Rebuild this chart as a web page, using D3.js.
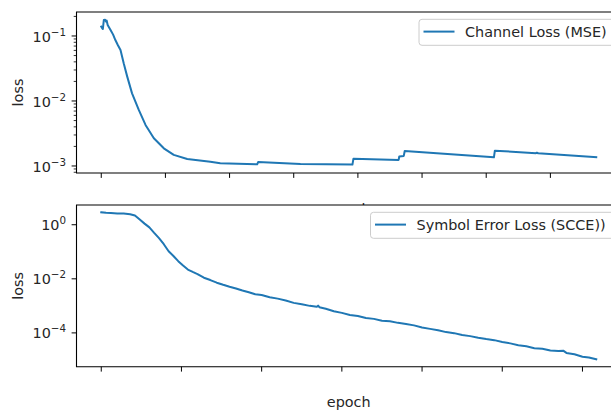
<!DOCTYPE html>
<html>
<head>
<meta charset="utf-8">
<script src="https://cdn.jsdelivr.net/npm/d3@7"></script>
<style>
  body { margin: 0; background: #fff; }
  svg { display: block; font-family: "DejaVu Sans", sans-serif; }
</style>
</head>
<body>
<svg id="canvas" width="611" height="410"></svg>
<script>
// channel loss (MSE), epoch / value
const mseEpoch = [0, 3, 5, 8, 12, 15, 17, 20, 29, 37, 44, 52, 60, 70, 81, 96, 117, 138, 164, 195, 226, 268, 340, 371, 486, 489, 621, 783, 786, 927, 929, 943, 946, 1224, 1227, 1355, 1358, 1362, 1543]
const mseLoss  = [0.139, 0.131, 0.128, 0.176, 0.178, 0.166, 0.172, 0.148, 0.124, 0.105, 0.0867, 0.072, 0.0609, 0.038, 0.0237, 0.0131, 0.00728, 0.00428, 0.00267, 0.00187, 0.00148, 0.00128, 0.00116, 0.0011, 0.00106, 0.00115, 0.00107, 0.00105, 0.00129, 0.00124, 0.0014, 0.00143, 0.0017, 0.00136, 0.00172, 0.00157, 0.0016, 0.00157, 0.00136]

// symbol error loss (SCCE)
const scceEpoch = [0, 15, 30, 50, 70, 90, 105, 120, 135, 150, 165, 180, 195, 210, 225, 240, 255, 270, 285, 300, 320, 340, 360, 380, 400, 420, 440, 460, 480,
  500, 525, 550, 575, 600, 625, 650, 672, 676, 680, 700, 725, 750, 775, 800, 825, 850, 875, 900, 925, 950, 975, 1000, 1025, 1050, 1075, 1100, 1125,
  1150, 1175, 1200, 1225, 1250, 1275, 1300, 1325, 1350, 1375, 1400, 1425, 1440, 1450, 1475, 1500, 1520, 1543]
const scceLoss = [2.88, 2.75, 2.70, 2.62, 2.60, 2.45, 2.2, 1.55, 1.1, 0.8, 0.5, 0.32, 0.19, 0.105, 0.07, 0.045, 0.031, 0.022, 0.018, 0.015, 0.011, 0.009, 0.0072, 0.006, 0.0051, 0.0044, 0.0037, 0.0032, 0.0027,
  2.51e-3, 2.09e-3, 1.85e-3, 1.58e-3, 1.29e-3, 1.15e-3, 1.0e-3, 9.2e-4, 1.02e-3, 8.9e-4, 7.8e-4, 6.3e-4, 5.5e-4, 4.6e-4, 4.2e-4, 3.55e-4, 3.3e-4, 2.8e-4, 2.7e-4, 2.35e-4, 2.15e-4, 1.9e-4, 1.58e-4, 1.41e-4, 1.26e-4, 1.07e-4, 9.8e-5, 8.3e-5,
  7.6e-5, 6.6e-5, 5.9e-5, 5.4e-5, 4.6e-5, 4.1e-5, 3.5e-5, 3.2e-5, 2.7e-5, 2.6e-5, 2.25e-5, 2.15e-5, 2.2e-5, 1.82e-5, 1.62e-5, 1.32e-5, 1.23e-5, 1.06e-5]

const mseTicksX = [0, 200, 400, 600, 800, 1000, 1200, 1400]
const scceTicksX = [0, 250, 500, 750, 1000, 1250, 1500]
const mseTicksY = [1e-3, 1e-2, 1e-1]
const scceTicksY = [1e-4, 1e-2, 1]

const blue = "#1f77b4"
const svg = d3.select("#canvas")
const left = 76.5, right = 621
const fs = "14.4px"

function expLabel(sel, v){
        const e = Math.round(Math.log10(v))
        sel.text("")
        sel.append("tspan").text("10")
        sel.append("tspan").attr("dy", -6).style("font-size", "10.3px").text(e < 0 ? "\u2212" + (-e) : e)
}

function drawPanel(cfg){
        const x = d3.scaleLinear().domain([-77.15, 1620.15]).range([left, right])
        const y = d3.scaleLog().domain(cfg.ydom).range([cfg.bottom, cfg.top])
        const g = svg.append("g")

        g.append("rect").attr("x", left).attr("y", cfg.top).attr("width", right - left).attr("height", cfg.bottom - cfg.top).attr("fill", "#fff")

        // minor ticks (top panel only)
        if (cfg.minor) {
                const minor = []
                for (let k = -4; k <= 0; k++) for (let m = 2; m <= 9; m++) {
                        const v = m * Math.pow(10, k)
                        if (v >= cfg.ydom[0] && v <= cfg.ydom[1]) minor.push(v)
                }
                g.selectAll(".minor").data(minor).join("line")
                .attr("x1", left).attr("x2", left - 2.8)
                .attr("y1", d => y(d)).attr("y2", d => y(d))
                .attr("stroke", "#000").attr("stroke-width", 0.8)
        }

        // y major ticks + labels
        g.selectAll(".ytick").data(cfg.yticks).join("line")
        .attr("x1", left).attr("x2", left - 4.9)
        .attr("y1", d => y(d)).attr("y2", d => y(d))
        .attr("stroke", "#000").attr("stroke-width", 1)
        g.selectAll(".ylab").data(cfg.yticks).join("text")
        .attr("x", 66).attr("y", d => y(d) + 5.6)
        .attr("text-anchor", "end")
        .style("font-size", fs).attr("fill", "#262626")
        .each(function(d){ expLabel(d3.select(this), d) })

        // x ticks, no labels
        g.selectAll(".xtick").data(cfg.xticks).join("line")
        .attr("x1", d => x(d)).attr("x2", d => x(d))
        .attr("y1", cfg.bottom).attr("y2", cfg.bottom + 4.9)
        .attr("stroke", "#000").attr("stroke-width", 1)

        // line
        const pts = cfg.ex.map((e, i) => [e, cfg.vals[i]])
        g.append("path").datum(pts)
        .attr("fill", "none").attr("stroke", blue).attr("stroke-width", 2)
        .attr("stroke-linejoin", "round").attr("stroke-linecap", "square")
        .attr("d", d3.line().x(d => x(d[0])).y(d => y(d[1])))

        // spines
        g.append("path")
        .attr("d", `M${right},${cfg.top}H${left}V${cfg.bottom}H${right}`)
        .attr("fill", "none").attr("stroke", "#000").attr("stroke-width", 1.1)

        // legend
        g.append("rect").attr("x", cfg.legX).attr("y", cfg.top + 7.3).attr("width", 260).attr("height", 26)
        .attr("rx", 3).attr("fill", "#fff").attr("fill-opacity", 0.8).attr("stroke", "#cccccc").attr("stroke-width", 1)
        g.append("line").attr("x1", cfg.legX + 4.5).attr("x2", cfg.legX + 35.5)
        .attr("y1", cfg.top + 19.6).attr("y2", cfg.top + 19.6).attr("stroke", blue).attr("stroke-width", 2)
        g.append("text").attr("x", cfg.legX + 46).attr("y", cfg.top + 24.8)
        .style("font-size", fs).attr("fill", "#262626").text(cfg.name)

        // y label
        g.append("text").attr("transform", `translate(23,${(cfg.top + cfg.bottom) / 2}) rotate(-90)`)
        .attr("text-anchor", "middle").style("font-size", fs).attr("fill", "#262626").text("loss")

        // x label (top one ends up under the lower panel)
        g.append("text").attr("x", (left + right) / 2).attr("y", cfg.bottom + 40.5)
        .attr("text-anchor", "middle").style("font-size", fs).attr("fill", "#262626").text("epoch")
}

drawPanel({top: 12, bottom: 173, ydom: [Math.pow(10, -3.108), Math.pow(10, -0.631)], yticks: mseTicksY, xticks: mseTicksX,
        minor: true, ex: mseEpoch, vals: mseLoss, name: "Channel Loss (MSE)", legX: 419})
drawPanel({top: 205, bottom: 366.7, ydom: [Math.pow(10, -5.25), Math.pow(10, 0.73)], yticks: scceTicksY, xticks: scceTicksX,
        minor: false, ex: scceEpoch, vals: scceLoss, name: "Symbol Error Loss (SCCE))", legX: 370.5})
</script>
</body>
</html>
